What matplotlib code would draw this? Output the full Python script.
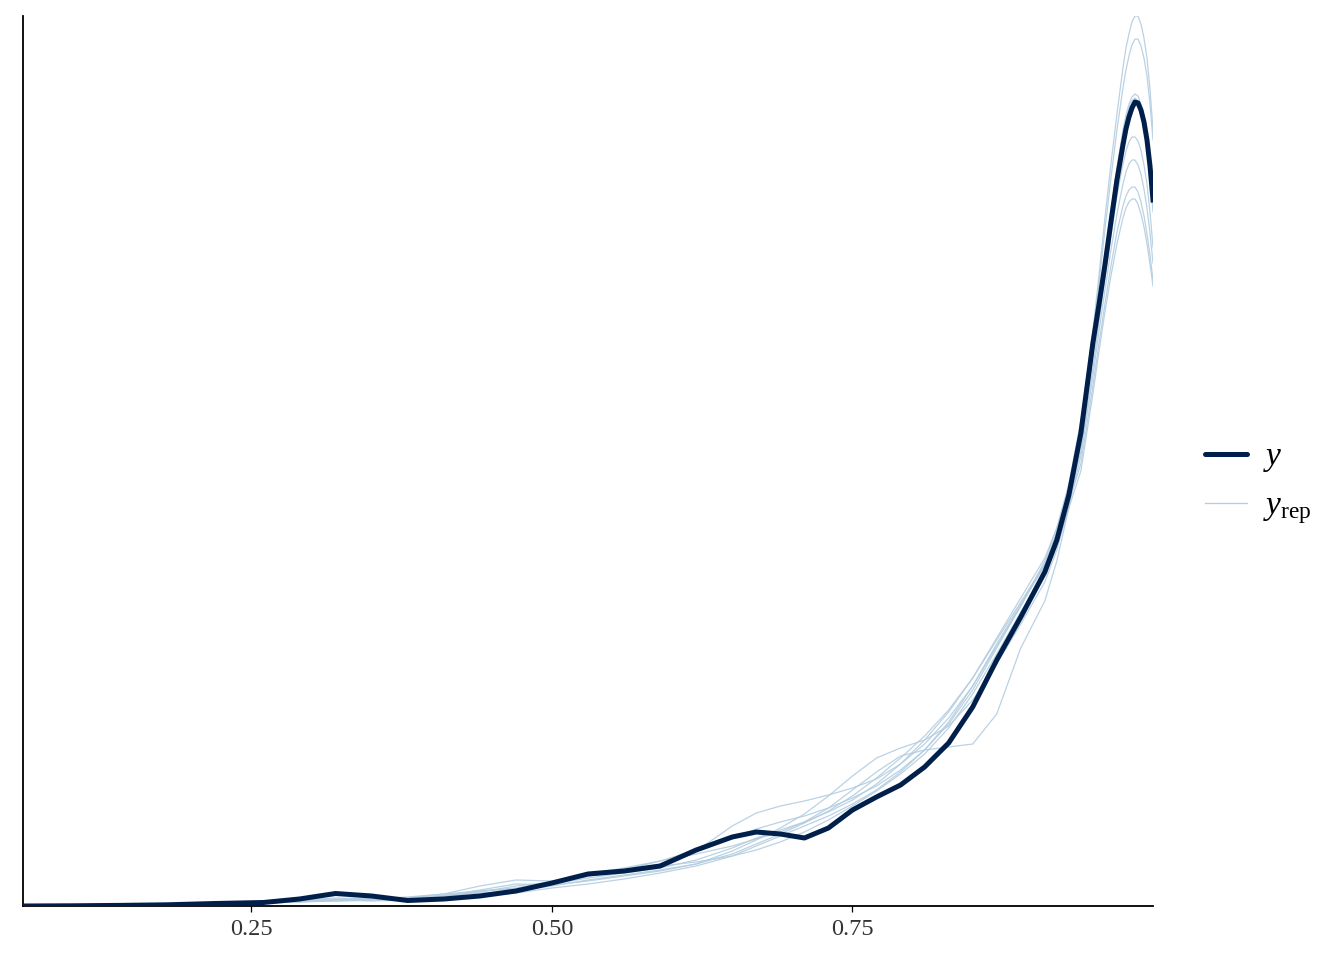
import matplotlib.pyplot as plt
from matplotlib.lines import Line2D

plt.rcParams['font.family'] = ['Liberation Serif', 'DejaVu Serif']
plt.rcParams['mathtext.fontset'] = 'custom'
plt.rcParams['mathtext.rm'] = 'Liberation Serif'
plt.rcParams['mathtext.it'] = 'Liberation Serif:italic'

# evaluation grid of the density curves
x_grid = [0.06, 0.10, 0.14, 0.18, 0.22, 0.26, 0.29, 0.32, 0.35, 0.38,
          0.41, 0.44, 0.47, 0.50, 0.53, 0.56, 0.59, 0.62, 0.65, 0.67,
          0.69, 0.71, 0.73, 0.75, 0.77, 0.79, 0.81, 0.83, 0.85, 0.87,
          0.89, 0.91, 0.92, 0.93, 0.94, 0.95, 0.955, 0.96, 0.965, 0.97,
          0.975, 0.9775, 0.98, 0.9825, 0.985, 0.9875, 0.99, 0.9925, 0.995,
          0.9975, 1.0]

# observed y density
y_dens = [0.000, 0.002, 0.006, 0.012, 0.025, 0.035, 0.07, 0.125, 0.10, 0.055,
          0.07, 0.10, 0.15, 0.23, 0.32, 0.35, 0.40, 0.56, 0.69, 0.74,
          0.72, 0.68, 0.78, 0.96, 1.09, 1.21, 1.39, 1.63, 1.99, 2.46,
          2.89, 3.34, 3.66, 4.11, 4.73, 5.63, 6.01, 6.41, 6.84, 7.26,
          7.61, 7.77, 7.89, 7.98, 8.04, 8.03, 7.96, 7.84, 7.66, 7.40, 7.06]

# replicated densities (yrep draws)
yrep_1 = [0, .001, .004, .010, .020, .035, .05, .06, .06, .07, .10, .15, .18,
          .24, .30, .36, .45, .56, .68, .77, .84, .90, .98, 1.08, 1.20, 1.36,
          1.56, 1.82, 2.16, 2.58, 3.00, 3.45, 3.78, 4.22,
          4.85, 5.75, 6.30, 6.88, 7.42, 7.92,
          8.38, 8.58, 8.72, 8.84, 8.90, 8.90, 8.82, 8.68, 8.48, 8.17, 7.76]
yrep_2 = [0, .002, .005, .012, .025, .040, .05, .05, .06, .08, .12, .20, .26,
          .25, .30, .34, .42, .55, .80, .93, 1.00, 1.05, 1.11, 1.18, 1.27, 1.42,
          1.62, 1.88, 2.20, 2.60, 3.00, 3.42, 3.74, 4.18,
          4.80, 5.70, 6.22, 6.76, 7.28, 7.76,
          8.18, 8.36, 8.50, 8.61, 8.67, 8.67, 8.60, 8.48, 8.30, 8.02, 7.66]
yrep_3 = [0, .001, .003, .008, .018, .03, .05, .07, .08, .08, .09, .11, .14,
          .22, .28, .33, .38, .46, .58, .68, .76, .84, .94, 1.06, 1.22, 1.42,
          1.66, 1.94, 2.28, 2.68, 3.08, 3.48, 3.78, 4.18,
          4.70, 5.58, 6.05, 6.50, 6.95, 7.38,
          7.76, 7.91, 8.02, 8.09, 8.12, 8.10, 8.02, 7.89, 7.70, 7.42, 7.06]
yrep_4 = [0, .002, .006, .012, .022, .04, .06, .06, .05, .06, .09, .14, .20,
          .24, .32, .38, .45, .52, .60, .67, .74, .84, .98, 1.16, 1.34, 1.50,
          1.56, 1.59, 1.62, 1.92, 2.58, 3.05, 3.45, 3.98,
          4.62, 5.52, 6.00, 6.46, 6.92, 7.34,
          7.72, 7.87, 7.98, 8.05, 8.08, 8.05, 7.96, 7.81, 7.60, 7.30, 6.94]
yrep_5 = [0, .001, .004, .010, .020, .03, .04, .05, .06, .08, .11, .13, .15,
          .20, .26, .31, .36, .42, .52, .62, .72, .83, .95, 1.10, 1.28, 1.48,
          1.70, 1.96, 2.28, 2.66, 3.04, 3.42, 3.70, 4.08,
          4.55, 5.38, 5.84, 6.28, 6.70, 7.10,
          7.42, 7.55, 7.64, 7.69, 7.69, 7.65, 7.56, 7.41, 7.22, 6.94, 6.59]
yrep_6 = [0, .002, .005, .011, .024, .04, .06, .08, .07, .07, .10, .16, .22,
          .21, .25, .30, .35, .42, .55, .66, .78, .92, 1.10, 1.30, 1.48, 1.58,
          1.66, 1.80, 2.06, 2.42, 2.82, 3.24, 3.56, 4.00,
          4.50, 5.30, 5.74, 6.16, 6.56, 6.92,
          7.22, 7.34, 7.42, 7.46, 7.46, 7.41, 7.32, 7.17, 6.98, 6.73, 6.43]
yrep_7 = [0, .001, .003, .009, .020, .03, .04, .06, .07, .08, .09, .10, .13,
          .18, .22, .27, .33, .40, .50, .60, .70, .80, .90, 1.02, 1.16, 1.34,
          1.56, 1.84, 2.20, 2.62, 3.02, 3.40, 3.68, 4.04,
          4.42, 5.20, 5.62, 6.02, 6.40, 6.74,
          7.00, 7.10, 7.16, 7.19, 7.19, 7.14, 7.04, 6.90, 6.72, 6.51, 6.26]
yrep_8 = [0, .002, .004, .010, .020, .035, .05, .06, .07, .09, .12, .15, .17,
          .22, .30, .36, .40, .44, .50, .56, .64, .74, .86, 1.00, 1.15, 1.32,
          1.52, 1.78, 2.12, 2.52, 2.94, 3.32, 3.60, 3.98,
          4.35, 5.12, 5.54, 5.94, 6.30, 6.62,
          6.88, 6.98, 7.04, 7.07, 7.07, 7.02, 6.92, 6.79, 6.62, 6.42, 6.20]
yrep_all = [yrep_1, yrep_2, yrep_3, yrep_4, yrep_5, yrep_6, yrep_7, yrep_8]

x_ticks = [0.25, 0.50, 0.75]
x_tick_labels = ['0.25', '0.50', '0.75']

dark = '#011f4b'
light = '#b3cde0'

fig = plt.figure(figsize=(13.44, 9.6), dpi=100)
ax = fig.add_axes([23 / 1344, 54 / 960, 1130 / 1344, 890 / 960])

for rep in yrep_all:
    ax.plot(x_grid, rep, color=light, lw=0.9, alpha=0.9, zorder=2,
            solid_joinstyle='round')
ax.plot(x_grid, y_dens, color=dark, lw=3.6, zorder=5, solid_joinstyle='round')

ax.set_xlim(x_grid[0], x_grid[-1])
ax.set_ylim(0, max(max(r) for r in yrep_all + [y_dens]))
ax.set_xticks(x_ticks)
ax.set_xticklabels(x_tick_labels)
ax.set_yticks([])
ax.tick_params(axis='x', length=4.3, width=0.9, colors='black',
               labelcolor='#333333', labelsize=17.5, pad=5)
for side in ['top', 'right']:
    ax.spines[side].set_visible(False)
for side in ['left', 'bottom']:
    ax.spines[side].set_linewidth(1.3)
    ax.spines[side].set_color('black')

handles = [Line2D([], [], color=dark, lw=3.6, solid_capstyle='round'),
           Line2D([], [], color=light, lw=0.9)]
labels = [r'$y$', r'$y_{\mathrm{rep}}$']
fig.legend(handles, labels, loc='center left',
           bbox_to_anchor=(1175 / 1344, 1 - 484 / 960),
           frameon=False, fontsize=24, handlelength=1.25,
           handletextpad=0.5, labelspacing=0.5)

fig.savefig('out.png', dpi=100)
